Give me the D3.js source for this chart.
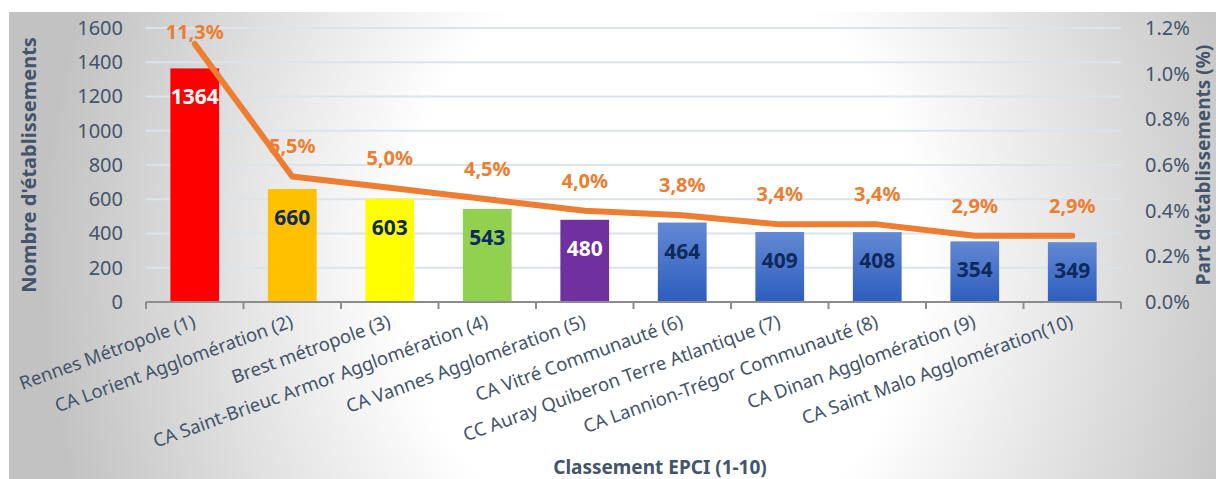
<!DOCTYPE html>
<html>
<head>
<meta charset="utf-8">
<script src="https://cdn.jsdelivr.net/npm/d3@7"></script>
<style>
  body { margin: 0; background: #fff; }
  svg { display: block; font-family: "Noto Sans", sans-serif; }
</style>
</head>
<body>
<div id="chart"></div>
<script>
// data
const categories = [
  "Rennes Métropole (1)",
  "CA Lorient Agglomération (2)",
  "Brest métropole (3)",
  "CA Saint-Brieuc Armor Agglomération (4)",
  "CA Vannes Agglomération (5)",
  "CA Vitré Communauté (6)",
  "CC Auray Quiberon Terre Atlantique (7)",
  "CA Lannion-Trégor Communauté (8)",
  "CA Dinan Agglomération (9)",
  "CA Saint Malo Agglomération(10)"
];
const counts = [1364, 660, 603, 543, 480, 464, 409, 408, 354, 349];
const shares = [11.3, 5.5, 5.0, 4.5, 4.0, 3.8, 3.4, 3.4, 2.9, 2.9];
const shareLabels = ["11,3%", "5,5%", "5,0%", "4,5%", "4,0%", "3,8%", "3,4%", "3,4%", "2,9%", "2,9%"];
const countTicks = [0, 200, 400, 600, 800, 1000, 1200, 1400, 1600];
const shareTicks = [0, 2, 4, 6, 8, 10, 12];
const shareTickLabels = ["0.0%", "0.2%", "0.4%", "0.6%", "0.8%", "1.0%", "1.2%"];

// styles
const barFill = ["#FF0000", "#FFC000", "#FFFF00", "#92D050", "#7030A0",
  "url(#blueBar)", "url(#blueBar)", "url(#blueBar)", "url(#blueBar)", "url(#blueBar)"];
const valueColor = ["#ffffff", "#0E2A5C", "#0E2A5C", "#0E2A5C", "#ffffff",
  "#0E2A5C", "#0E2A5C", "#0E2A5C", "#0E2A5C", "#0E2A5C"];
const axisText = "#44546A";
const orange = "#ED7D31";

const width = 1216, height = 479;
const plotLeft = 146, plotRight = 1121, plotTop = 28, plotBottom = 302;

const svg = d3.select("#chart").append("svg")
  .attr("width", width)
  .attr("height", height);

const defs = svg.append("defs");
const bg = defs.append("radialGradient")
  .attr("id", "bg")
  .attr("gradientUnits", "userSpaceOnUse")
  .attr("cx", 660).attr("cy", 260).attr("r", 620)
  .attr("gradientTransform", "translate(660,260) scale(1,1.15) translate(-660,-260)");
bg.append("stop").attr("offset", 0).attr("stop-color", "#ffffff");
bg.append("stop").attr("offset", 0.42).attr("stop-color", "#ffffff");
bg.append("stop").attr("offset", 1).attr("stop-color", "#c2c2c2");

const blue = defs.append("linearGradient")
  .attr("id", "blueBar")
  .attr("x1", 0).attr("y1", 0).attr("x2", 0).attr("y2", 1);
blue.append("stop").attr("offset", 0).attr("stop-color", "#6389D3");
blue.append("stop").attr("offset", 1).attr("stop-color", "#2D5DBE");

// chart area background
svg.append("rect")
  .attr("x", 9).attr("y", 12)
  .attr("width", width - 9).attr("height", height - 12)
  .attr("fill", "url(#bg)");

// scales
const x = d3.scaleBand()
  .domain(categories)
  .range([plotLeft, plotRight])
  .paddingInner(0.5)
  .paddingOuter(0.25);
const y = d3.scaleLinear().domain([0, 1600]).range([plotBottom, plotTop]);
const yR = d3.scaleLinear().domain([0, 12]).range([plotBottom, plotTop]);

// gridlines
svg.append("g")
  .selectAll("line")
  .data(countTicks.filter(d => d > 0))
  .join("line")
  .attr("x1", plotLeft).attr("x2", plotRight)
  .attr("y1", d => y(d)).attr("y2", d => y(d))
  .attr("stroke", "#dde3ea")
  .attr("stroke-width", 2);

// bars
svg.append("g")
  .selectAll("rect")
  .data(counts)
  .join("rect")
  .attr("x", (d, i) => x(categories[i]))
  .attr("y", d => y(d))
  .attr("width", x.bandwidth())
  .attr("height", d => y(0) - y(d))
  .attr("fill", (d, i) => barFill[i]);

// bar values
svg.append("g")
  .selectAll("text")
  .data(counts)
  .join("text")
  .attr("x", (d, i) => x(categories[i]) + x.bandwidth() / 2)
  .attr("y", d => y(d) + 36)
  .attr("text-anchor", "middle")
  .attr("font-size", 21)
  .attr("font-weight", "bold")
  .attr("fill", (d, i) => valueColor[i])
  .text(d => d);

// x axis line + ticks at band edges
const xAxis = svg.append("g").attr("transform", `translate(0,${plotBottom})`);
xAxis.append("line")
  .attr("x1", plotLeft).attr("x2", plotRight)
  .attr("stroke", "#8c8c8c").attr("stroke-width", 2);
xAxis.selectAll(".edge")
  .data(d3.range(categories.length + 1))
  .join("line")
  .attr("class", "edge")
  .attr("x1", i => plotLeft + i * x.step())
  .attr("x2", i => plotLeft + i * x.step())
  .attr("y1", 0).attr("y2", 7)
  .attr("stroke", "#8c8c8c").attr("stroke-width", 2);

// category labels
const xLabels = svg.append("g")
  .attr("transform", `translate(0,${plotBottom})`)
  .call(d3.axisBottom(x).tickSize(0));
xLabels.select(".domain").remove();
xLabels.selectAll("text")
  .attr("y", 0)
  .attr("dy", "0.78em")
  .attr("transform", "translate(-3,11) rotate(-20)")
  .attr("text-anchor", "end")
  .attr("font-family", "Noto Sans")
  .attr("font-size", 18.5)
  .attr("fill", axisText);

// left axis
const yAxis = svg.append("g")
  .attr("transform", `translate(${plotLeft},0)`)
  .call(d3.axisLeft(y).tickValues(countTicks).tickFormat(d3.format("d"))
    .tickSize(0).tickPadding(23));
yAxis.select(".domain").remove();
yAxis.selectAll("text")
  .attr("font-family", "Noto Sans")
  .attr("font-size", 20)
  .attr("fill", axisText);

// right axis
const yAxisR = svg.append("g")
  .attr("transform", `translate(${plotRight},0)`)
  .call(d3.axisRight(yR).tickValues(shareTicks)
    .tickFormat((d, i) => shareTickLabels[i])
    .tickSize(0).tickPadding(24));
yAxisR.select(".domain").remove();
yAxisR.selectAll("text")
  .attr("font-family", "Noto Sans")
  .attr("font-size", 20)
  .attr("fill", axisText);

// share line
const line = d3.line()
  .x((d, i) => x(categories[i]) + x.bandwidth() / 2)
  .y(d => yR(d));
svg.append("path")
  .attr("d", line(shares))
  .attr("fill", "none")
  .attr("stroke", orange)
  .attr("stroke-width", 6)
  .attr("stroke-linejoin", "round")
  .attr("stroke-linecap", "round");

// share labels
svg.append("g")
  .selectAll("text")
  .data(shares)
  .join("text")
  .attr("x", (d, i) => x(categories[i]) + x.bandwidth() / 2)
  .attr("y", d => Math.max(yR(d) - 23, 39))
  .attr("text-anchor", "middle")
  .attr("font-size", 20)
  .attr("font-weight", "bold")
  .attr("fill", orange)
  .text((d, i) => shareLabels[i]);

// axis titles
svg.append("text")
  .attr("transform", `translate(36,${(plotTop + plotBottom) / 2}) rotate(-90)`)
  .attr("text-anchor", "middle")
  .attr("font-size", 20)
  .attr("font-weight", "bold")
  .attr("fill", axisText)
  .text("Nombre d'établissements");

svg.append("text")
  .attr("transform", `translate(1210,${(plotTop + plotBottom) / 2}) rotate(-90)`)
  .attr("text-anchor", "middle")
  .attr("font-size", 19)
  .attr("font-weight", "bold")
  .attr("fill", axisText)
  .text("Part d'établissements (%)");

svg.append("text")
  .attr("x", 660)
  .attr("y", 474)
  .attr("text-anchor", "middle")
  .attr("font-size", 19)
  .attr("font-weight", "bold")
  .attr("fill", axisText)
  .text("Classement EPCI (1-10)");
</script>
</body>
</html>
